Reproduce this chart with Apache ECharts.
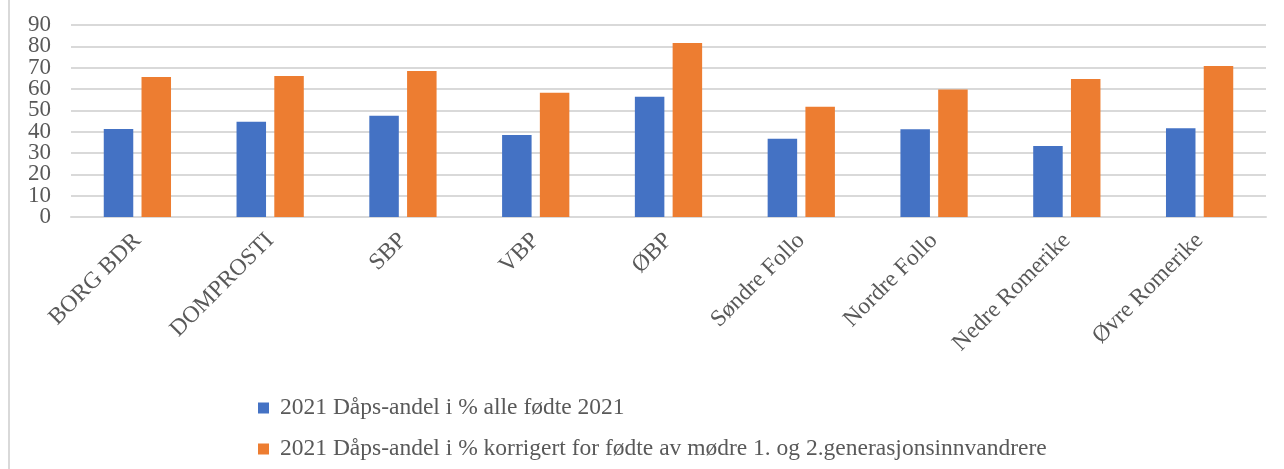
<!DOCTYPE html>
<html>
<head>
<meta charset="utf-8">
<script src="https://cdn.jsdelivr.net/npm/echarts@6/dist/echarts.min.js"></script>
<style>html,body{margin:0;padding:0;background:#fff}#c{width:1284px;height:469px}</style>
</head>
<body>
<div id="c"></div>
<script>
var categories = ["BORG BDR", "DOMPROSTI", "SBP", "VBP", "ØBP", "Søndre Follo", "Nordre Follo", "Nedre Romerike", "Øvre Romerike"];
var seriesNames = ["2021 Dåps-andel i % alle fødte 2021", "2021 Dåps-andel i % korrigert for fødte av mødre 1. og 2.generasjonsinnvandrere"];
var alleFodte = [41.3, 44.6, 47.5, 38.4, 56.4, 36.7, 41.1, 33.3, 41.6];
var korrigert = [65.6, 66.1, 68.4, 58.3, 81.6, 51.7, 59.8, 64.7, 70.8];
var yTicks = [0, 10, 20, 30, 40, 50, 60, 70, 80, 90];

var font = "'Liberation Serif', 'Times New Roman', serif";
var textColor = "#595959";
var gridLeft = 71;
var chart = echarts.init(document.getElementById('c'), null, {renderer: 'canvas'});
chart.setOption({
  animation: false,
  backgroundColor: '#ffffff',
  color: ['#4472C4', '#ED7D31'],
  graphic: [{
    id: 'border', type: 'line', shape: {x1: 9, y1: 0, x2: 9, y2: 469},
    style: {stroke: '#d9d9d9', lineWidth: 2}
  }],
  grid: {left: gridLeft, right: 18, top: 25, bottom: 252, containLabel: false},
  legend: {
    orient: 'vertical', left: 253, top: 391, itemGap: 17,
    itemWidth: 11, itemHeight: 11, icon: 'rect',
    textStyle: {fontFamily: font, fontSize: 23.5, color: textColor, padding: [0, 0, 0, 6]},
    data: seriesNames
  },
  xAxis: {
    type: 'category', data: categories,
    axisLine: {show: true, lineStyle: {color: '#d9d9d9', width: 2}},
    axisTick: {show: false},
    axisLabel: {rotate: 45, margin: 20, interval: 0, fontFamily: font, fontSize: 23.5, color: textColor}
  },
  yAxis: {
    type: 'value', min: yTicks[0], max: yTicks[yTicks.length - 1], interval: 10,
    axisLine: {show: false}, axisTick: {show: false},
    splitLine: {lineStyle: {color: '#d9d9d9', width: 2}},
    axisLabel: {show: false}
  },
  series: [
    {name: seriesNames[0], type: 'bar', data: alleFodte, barWidth: 29.5, barGap: '28%'},
    {name: seriesNames[1], type: 'bar', data: korrigert, barWidth: 29.5, barGap: '28%'}
  ]
});
// y-axis tick labels placed via the value axis scale (ECharts hides overlapping ones otherwise)
var labelEls = yTicks.map(function (v, i) {
  var py = chart.convertToPixel({yAxisIndex: 0}, v);
  return {
    id: 'ylab' + i, type: 'text', x: gridLeft - 20, y: py,
    style: {text: String(v), fontFamily: font, fontSize: 23, fill: textColor,
      align: 'right', verticalAlign: 'middle'}
  };
});
chart.setOption({graphic: labelEls});
</script>
</body>
</html>
